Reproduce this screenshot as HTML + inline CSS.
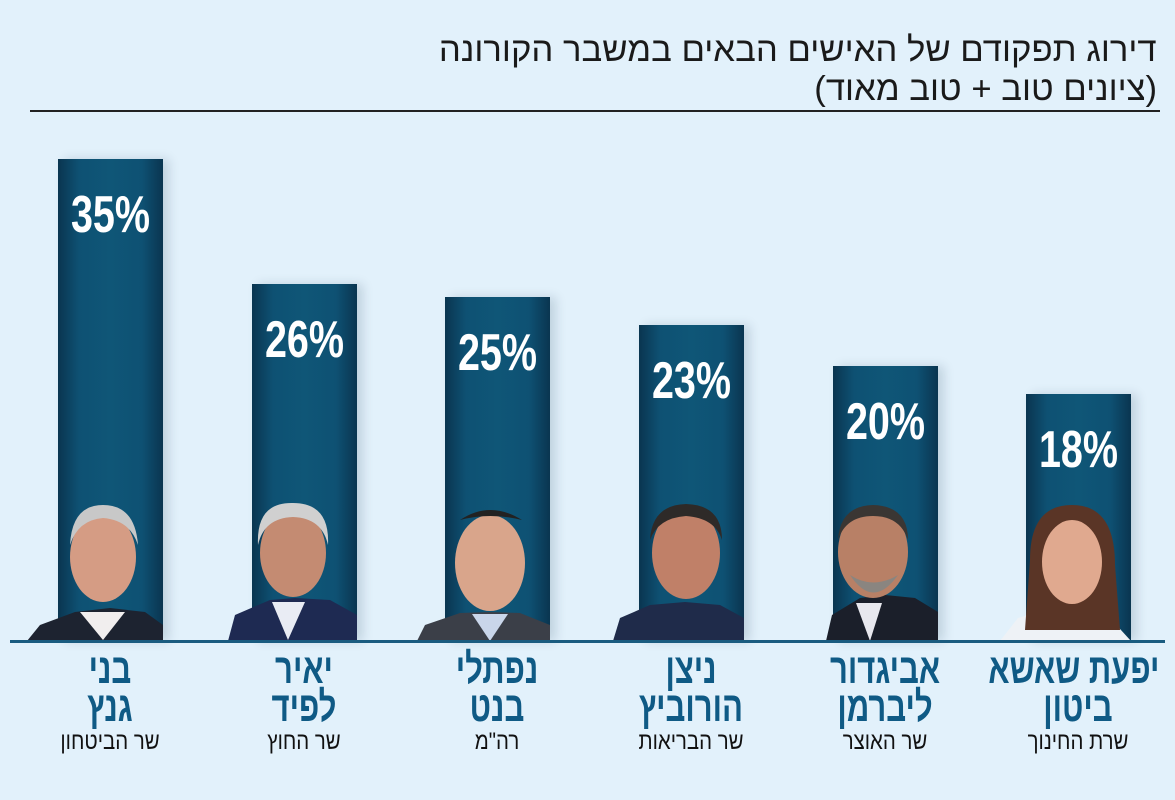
<!DOCTYPE html>
<html><head><meta charset="utf-8"><style>
body{margin:0;width:1175px;height:800px;background:#e2f1fb;position:relative;overflow:hidden;font-family:"Liberation Sans","Noto Sans CJK SC",sans-serif}
.t{position:absolute;right:18px;direction:rtl;color:#1a1a1a;font-size:34px;white-space:nowrap;transform-origin:right;transform:scaleX(1.02)}
.bar{position:absolute;width:105px;background:linear-gradient(90deg,#0a3550 0%,#0e5173 20%,#0f5677 50%,#0e5173 80%,#0a3550 100%);box-shadow:6px 0 10px rgba(0,40,70,.15)}
.pct{position:absolute;width:105px;text-align:center;color:#fff;font-weight:bold;font-size:52px;transform:scaleX(.76)}
.nm{position:absolute;width:220px;text-align:center;direction:rtl;color:#0f5a85;font-weight:bold;font-size:42px;line-height:38px;transform:scaleX(.74);white-space:nowrap}
.sb{position:absolute;width:220px;text-align:center;direction:rtl;color:#111;font-size:24px;transform:scaleX(.85);white-space:nowrap}
</style></head><body>
<div class="t" style="top:31px">דירוג תפקודם של האישים הבאים במשבר הקורונה</div>
<div class="t" style="top:70px">(ציונים טוב + טוב מאוד)</div>
<div style="position:absolute;left:30px;top:110px;width:1130px;height:2px;background:#222"></div>

<div class="bar" style="left:58px;top:159px;height:482px"></div>
<div class="bar" style="left:252px;top:284px;height:357px"></div>
<div class="bar" style="left:445px;top:297px;height:344px"></div>
<div class="bar" style="left:639px;top:325px;height:316px"></div>
<div class="bar" style="left:833px;top:366px;height:275px"></div>
<div class="bar" style="left:1026px;top:394px;height:247px"></div>

<div class="pct" style="left:58px;top:185px">35%</div>
<div class="pct" style="left:252px;top:310px">26%</div>
<div class="pct" style="left:445px;top:323px">25%</div>
<div class="pct" style="left:639px;top:351px">23%</div>
<div class="pct" style="left:833px;top:392px">20%</div>
<div class="pct" style="left:1026px;top:420px">18%</div>

<svg width="1175" height="800" style="position:absolute;left:0;top:0">
<path d="M27 641 L40 625 L75 612 L110 608 L145 612 L163 625 L163 641Z" fill="#1d2330"/>
<path d="M80 612 L103 640 L125 612Z" fill="#f1eeee"/>
<ellipse cx="103" cy="557" rx="33" ry="45" fill="#d59c84"/>
<path d="M70 545 Q72 505 103 505 Q135 505 138 545 Q130 520 103 518 Q78 520 70 545Z" fill="#c8c8c8"/>
<path d="M228 641 L235 615 L270 600 L295 598 L330 600 L357 615 L357 641Z" fill="#1e2a52"/>
<path d="M272 602 L288 640 L305 602Z" fill="#e9ecf4"/>
<ellipse cx="293" cy="553" rx="33" ry="44" fill="#c48b72"/>
<path d="M258 545 Q256 502 293 503 Q330 503 328 545 Q322 518 293 517 Q264 518 258 545Z" fill="#d0d0d0"/>
<path d="M417 641 L425 625 L460 613 L490 612 L520 613 L550 625 L550 641Z" fill="#3b3f48"/>
<path d="M472 614 L490 641 L508 614Z" fill="#c9d6ea"/>
<ellipse cx="490" cy="563" rx="35" ry="48" fill="#d9a58b"/>
<path d="M460 520 Q490 500 522 520 Q490 512 460 520Z" fill="#222"/>
<path d="M613 641 L620 618 L650 605 L685 602 L720 605 L744 618 L744 641Z" fill="#1f2b4a"/>
<ellipse cx="686" cy="553" rx="34" ry="46" fill="#c08068"/>
<path d="M650 540 Q652 505 686 504 Q722 505 722 540 Q715 518 686 516 Q658 518 650 540Z" fill="#2e2a28"/>
<path d="M826 641 L832 615 L860 598 L885 595 L915 598 L938 612 L938 641Z" fill="#1b1f2a"/>
<path d="M856 603 L870 641 L882 603Z" fill="#e8e8ee"/>
<ellipse cx="873" cy="552" rx="35" ry="46" fill="#b88066"/>
<path d="M838 540 Q840 506 873 505 Q908 506 908 540 Q900 516 873 516 Q846 516 838 540Z" fill="#3a3633"/>
<path d="M850 575 Q873 610 898 575 Q873 590 850 575Z" fill="#8a8580"/>
<path d="M1000 641 L1018 618 L1045 610 L1085 610 L1110 618 L1131 641Z" fill="#eef2f6"/>
<path d="M1030 560 Q1030 505 1072 505 Q1115 505 1115 565 L1120 630 L1025 630Z" fill="#5a3526"/>
<ellipse cx="1072" cy="562" rx="30" ry="42" fill="#e0a98f"/>
<rect x="10" y="640" width="1155" height="3" fill="#1a5c80"/>
</svg>

<div class="nm" style="left:0px;top:650px">בני<br>גנץ</div>
<div class="sb" style="left:0px;top:728px">שר הביטחון</div>
<div class="nm" style="left:194px;top:650px">יאיר<br>לפיד</div>
<div class="sb" style="left:194px;top:728px">שר החוץ</div>
<div class="nm" style="left:387px;top:650px">נפתלי<br>בנט</div>
<div class="sb" style="left:387px;top:728px">רה"מ</div>
<div class="nm" style="left:581px;top:650px">ניצן<br>הורוביץ</div>
<div class="sb" style="left:581px;top:728px">שר הבריאות</div>
<div class="nm" style="left:775px;top:650px">אביגדור<br>ליברמן</div>
<div class="sb" style="left:775px;top:728px">שר האוצר</div>
<div class="nm" style="left:968px;top:650px">יפעת שאשא<br>ביטון</div>
<div class="sb" style="left:968px;top:728px">שרת החינוך</div>
</body></html>
